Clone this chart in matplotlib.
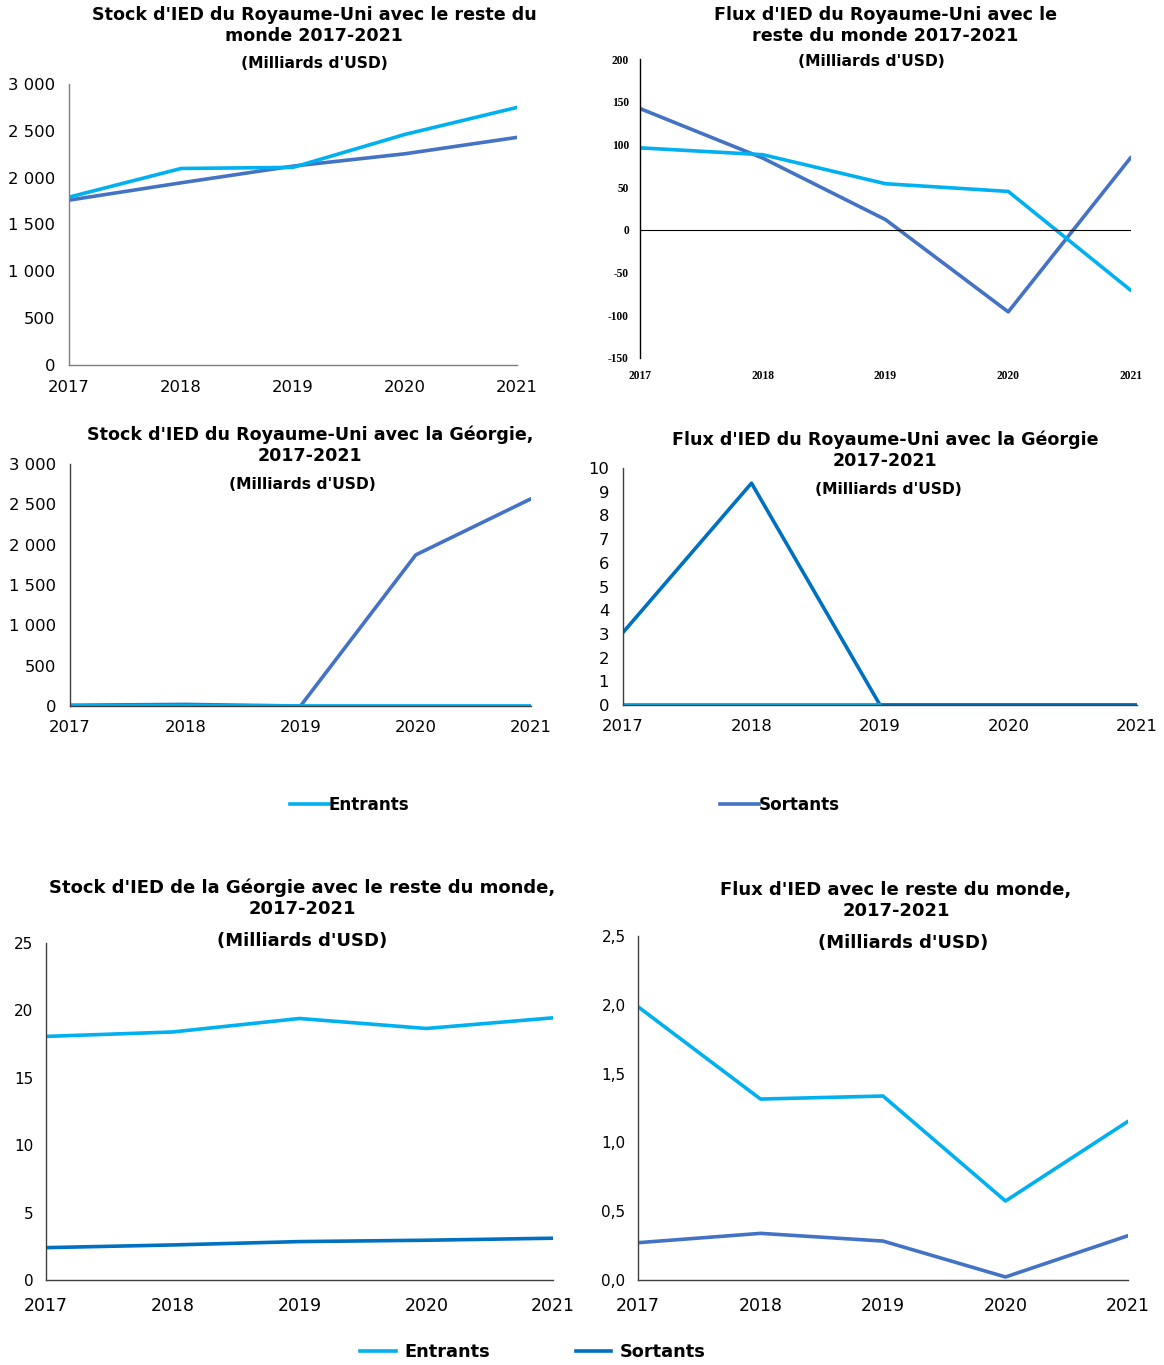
import matplotlib
matplotlib.use("Agg")
import matplotlib.pyplot as plt
from matplotlib.ticker import FuncFormatter, MultipleLocator

plt.rcParams['font.family'] = ['DejaVu Sans']
plt.rcParams['axes.unicode_minus'] = False

years = [2017, 2018, 2019, 2020, 2021]

# Stock d'IED du Royaume-Uni avec le reste du monde
uk_stock_in = [1792, 2098, 2110, 2462, 2750]
uk_stock_out = [1760, 1945, 2123, 2255, 2430]

# Flux d'IED du Royaume-Uni avec le reste du monde
uk_flow_in = [96, 88, 54, 45, -71]
uk_flow_out = [142, 84, 12, -96, 85]

# Stock d'IED du Royaume-Uni avec la Géorgie
ukge_stock_in = [2, 2, 1, 1, 1]
ukge_stock_out = [10, 20, 0, 1873, 2569]

# Flux d'IED du Royaume-Uni avec la Géorgie
ukge_flow_in = [0, 0, 0, 0, 0]
ukge_flow_out = [3.06, 9.36, 0, 0, 0]

# Stock d'IED de la Géorgie avec le reste du monde
ge_stock_in = [18.07, 18.4, 19.4, 18.66, 19.45]
ge_stock_out = [2.4, 2.6, 2.85, 2.95, 3.1]

# Flux d'IED de la Géorgie avec le reste du monde
ge_flow_in = [1.986, 1.315, 1.337, 0.574, 1.153]
ge_flow_out = [0.271, 0.339, 0.283, 0.022, 0.322]

C_IN = '#00B0F0'
C_OUT = '#4472C4'
C_OUT_GE = '#0070C0'

W, H = 1164, 1365
fig = plt.figure(figsize=(W / 100, H / 100), dpi=100)


def px_axes(l, t, r, b):
    return fig.add_axes([l / W, 1 - b / H, (r - l) / W, (b - t) / H])


def fx(x):
    return x / W


def fy(y):
    return 1 - y / H


def space_thousands(v, pos):
    return f"{int(round(v)):,}".replace(",", " ")


def comma_dec(v, pos):
    return f"{v:.1f}".replace(".", ",")


def style(ax, spine_col='#7f7f7f'):
    for s in ['top', 'right']:
        ax.spines[s].set_visible(False)
    for s in ['left', 'bottom']:
        ax.spines[s].set_color(spine_col)
        ax.spines[s].set_linewidth(1.0)
    ax.tick_params(length=0)
    ax.set_xlim(2017, 2021)
    ax.set_xticks(years)
    ax.patch.set_alpha(0)


def titles(cx, y1, lines, ysub, cxsub=None, size=12.6, subsize=11.2):
    for i, line in enumerate(lines):
        fig.text(fx(cx), fy(y1 + i * 21), line, ha='center', va='center',
                 fontsize=size, fontweight='bold')
    fig.text(fx(cxsub if cxsub else cx), fy(ysub), "(Milliards d'USD)",
             ha='center', va='center', fontsize=subsize, fontweight='bold')


lw = 2.6

# 1) Stock RU - monde
ax1 = px_axes(69, 84, 517, 365)
ax1.plot(years, uk_stock_out, color=C_OUT, lw=lw, solid_capstyle='round')
ax1.plot(years, uk_stock_in, color=C_IN, lw=lw, solid_capstyle='round')
style(ax1)
ax1.set_ylim(0, 3000)
ax1.yaxis.set_major_locator(MultipleLocator(500))
ax1.yaxis.set_major_formatter(FuncFormatter(space_thousands))
ax1.tick_params(labelsize=11.8)
ax1.tick_params(axis='y', pad=10)
ax1.tick_params(axis='x', pad=11)
titles(314, 15, ["Stock d'IED du Royaume-Uni avec le reste du",
                 "monde 2017-2021"], 64)

# 2) Flux RU - monde
ax2 = px_axes(640, 59, 1131, 358)
ax2.plot(years, uk_flow_out, color=C_OUT, lw=lw, solid_capstyle='round')
ax2.plot(years, uk_flow_in, color=C_IN, lw=lw, solid_capstyle='round')
style(ax2, spine_col='black')
ax2.spines['bottom'].set_visible(False)
ax2.axhline(0, color='black', lw=0.8, xmax=1.0)
ax2.set_ylim(-150, 200)
ax2.yaxis.set_major_locator(MultipleLocator(50))
for lab in ax2.get_xticklabels() + ax2.get_yticklabels():
    lab.set_fontfamily('Liberation Serif')
    lab.set_fontweight('bold')
    lab.set_fontsize(8.3)
ax2.tick_params(axis='y', pad=8)
ax2.tick_params(axis='x', pad=9)
titles(885, 15, ["Flux d'IED du Royaume-Uni avec le",
                 "reste du monde 2017-2021"], 62, cxsub=871)

# 3) Stock RU - Géorgie
ax3 = px_axes(70, 464, 531, 706)
ax3.plot(years, ukge_stock_out, color=C_OUT, lw=lw, solid_capstyle='round')
ax3.plot(years, ukge_stock_in, color=C_IN, lw=lw, solid_capstyle='round')
style(ax3, spine_col='#404040')
ax3.set_ylim(0, 3000)
ax3.yaxis.set_major_locator(MultipleLocator(500))
ax3.yaxis.set_major_formatter(FuncFormatter(space_thousands))
ax3.tick_params(labelsize=11.8)
ax3.tick_params(axis='y', pad=10)
ax3.tick_params(axis='x', pad=10)
titles(310, 435, ["Stock d'IED du Royaume-Uni avec la Géorgie,",
                  "2017-2021"], 484, cxsub=302)

# 4) Flux RU - Géorgie
ax4 = px_axes(623, 468, 1137, 705)
ax4.plot(years, ukge_flow_in, color=C_IN, lw=lw, solid_capstyle='round')
ax4.plot(years, ukge_flow_out, color=C_OUT_GE, lw=lw, solid_capstyle='round')
ax4.plot(years[:3], ukge_flow_in[:3], color=C_IN, lw=lw, solid_capstyle='round')
style(ax4, spine_col='#404040')
ax4.set_ylim(0, 10)
ax4.yaxis.set_major_locator(MultipleLocator(1))
ax4.tick_params(labelsize=11.8)
ax4.tick_params(axis='y', pad=10)
ax4.tick_params(axis='x', pad=10)
titles(885, 440, ["Flux d'IED du Royaume-Uni avec la Géorgie",
                  "2017-2021"], 489, cxsub=888)

# légende centrale
fig.legend(
    [plt.Line2D([], [], color=C_IN, lw=lw), plt.Line2D([], [], color=C_OUT, lw=lw)],
    ["Entrants", "Sortants"], loc='center', bbox_to_anchor=(fx(565), fy(805)),
    ncol=2, frameon=False, handlelength=2.3, handletextpad=0.0,
    columnspacing=18.5, prop={'weight': 'bold', 'size': 12.1})

# 5) Stock Géorgie - monde
ax5 = px_axes(46, 943, 553, 1280)
ax5.plot(years, ge_stock_in, color=C_IN, lw=lw, solid_capstyle='round')
ax5.plot(years, ge_stock_out, color=C_OUT_GE, lw=lw, solid_capstyle='round')
style(ax5, spine_col='#404040')
ax5.set_ylim(0, 25)
ax5.yaxis.set_major_locator(MultipleLocator(5))
ax5.tick_params(axis='y', labelsize=11, pad=9)
ax5.tick_params(axis='x', labelsize=12.5, pad=12)
titles(302, 888, ["Stock d'IED de la Géorgie avec le reste du monde,",
                  "2017-2021"], 941, size=13, subsize=13)

# 6) Flux Géorgie - monde
ax6 = px_axes(638, 936, 1128, 1280)
ax6.plot(years, ge_flow_in, color=C_IN, lw=lw, solid_capstyle='round')
ax6.plot(years, ge_flow_out, color=C_OUT, lw=lw, solid_capstyle='round')
style(ax6, spine_col='#404040')
ax6.set_ylim(0, 2.5)
ax6.yaxis.set_major_locator(MultipleLocator(0.5))
ax6.yaxis.set_major_formatter(FuncFormatter(comma_dec))
ax6.tick_params(axis='y', labelsize=11, pad=9)
ax6.tick_params(axis='x', labelsize=12.5, pad=12)
titles(896, 890, ["Flux d'IED avec le reste du monde,",
                  "2017-2021"], 943, cxsub=903, size=13, subsize=13)

# légende du bas
fig.legend(
    [plt.Line2D([], [], color=C_IN, lw=lw), plt.Line2D([], [], color=C_OUT_GE, lw=lw)],
    ["Entrants", "Sortants"], loc='center', bbox_to_anchor=(fx(533), fy(1352)),
    ncol=2, frameon=False, handlelength=2.0, handletextpad=0.5,
    columnspacing=4.8, prop={'weight': 'bold', 'size': 12.8})

fig.savefig("out.png", dpi=100)
